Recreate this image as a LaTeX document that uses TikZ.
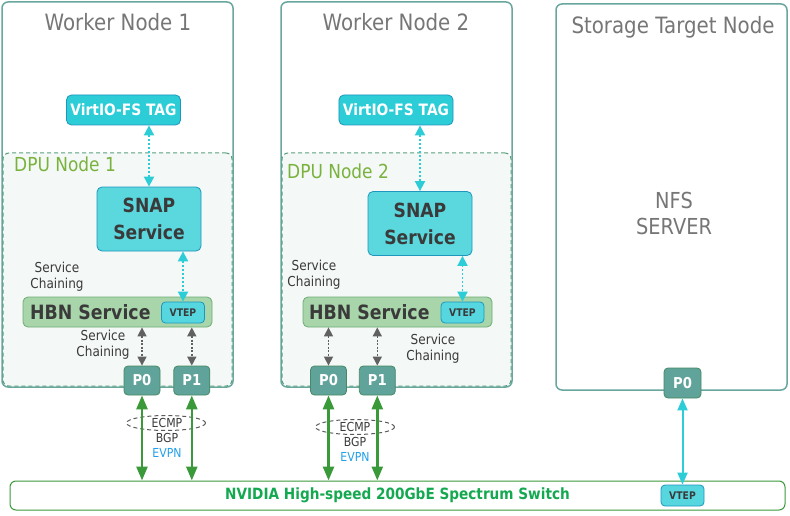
\documentclass[tikz,border=0pt]{standalone}
\usepackage{fontspec}
\setmainfont{DejaVu Sans}[FakeStretch=0.88]
\usepackage{tikz}
\usetikzlibrary{shapes.geometric, arrows.meta, positioning}
\definecolor{boxteal}{RGB}{104,166,158}
\definecolor{titlegray}{RGB}{118,118,118}
\definecolor{tagcyan}{RGB}{44,205,215}
\definecolor{tagedge}{RGB}{30,150,190}
\definecolor{dpufill}{RGB}{244,248,246}
\definecolor{dpuedge}{RGB}{90,160,128}
\definecolor{dpugreen}{RGB}{122,178,62}
\definecolor{snapfill}{RGB}{90,216,222}
\definecolor{hbnfill}{RGB}{168,213,170}
\definecolor{hbnedge}{RGB}{110,172,118}
\definecolor{portfill}{RGB}{95,163,154}
\definecolor{portedge}{RGB}{70,138,100}
\definecolor{darktext}{RGB}{58,58,58}
\definecolor{linkgreen}{RGB}{58,154,58}
\definecolor{switchgreen}{RGB}{20,168,80}
\definecolor{evpnblue}{RGB}{32,160,232}
\tikzstyle{worker} = [rectangle, rounded corners=6pt, draw=boxteal, line width=1.5pt, fill=white, minimum width=231pt, minimum height=385pt, inner sep=0pt]
\tikzstyle{title} = [text=titlegray, font=\fontsize{22.5}{26}\selectfont]
\tikzstyle{tag} = [rectangle, rounded corners=5pt, draw=tagedge, line width=0.8pt, fill=tagcyan, text=white, font=\bfseries\fontsize{15.7}{18}\selectfont, minimum height=30pt, inner sep=4pt]
\tikzstyle{dpu} = [rectangle, rounded corners=6pt, draw=dpuedge, dash pattern=on 4pt off 3pt, line width=1pt, fill=dpufill, minimum width=229pt, minimum height=233pt, inner sep=0pt]
\tikzstyle{dpulabel} = [text=dpugreen, font=\fontsize{19.3}{22}\selectfont, anchor=west, inner sep=0pt]
\tikzstyle{snap} = [rectangle, rounded corners=5pt, draw=tagedge, line width=0.8pt, fill=snapfill, text=darktext, font=\bfseries\fontsize{19.5}{27}\selectfont, align=center, minimum width=104pt, minimum height=64pt]
\tikzstyle{hbn} = [rectangle, rounded corners=5pt, draw=hbnedge, line width=0.8pt, fill=hbnfill, minimum width=189pt, minimum height=30pt, inner sep=0pt]
\tikzstyle{hbnlabel} = [text=darktext, font=\bfseries\fontsize{19.7}{22}\selectfont, anchor=west, inner sep=0pt]
\tikzstyle{vtep} = [rectangle, rounded corners=4pt, draw=tagedge, line width=0.8pt, fill=tagcyan!80!white, text=darktext, font=\bfseries\fontsize{10.5}{12}\selectfont, minimum width=43pt, minimum height=21pt, inner sep=0pt]
\tikzstyle{port} = [rectangle, rounded corners=4pt, draw=portedge, line width=0.8pt, fill=portfill, text=white, font=\bfseries\fontsize{15}{18}\selectfont, minimum width=36pt, minimum height=29pt, inner sep=0pt]
\tikzstyle{note} = [text=darktext, font=\fontsize{13.7}{16}\selectfont, align=center, inner sep=0pt]
\tikzstyle{proto} = [text=darktext, font=\fontsize{12.4}{15}\selectfont, align=center, inner sep=0pt]
\tikzstyle{ring} = [ellipse, draw=black!65, dash pattern=on 4pt off 3pt, line width=1pt, minimum width=79pt, minimum height=15pt, inner sep=0pt]
\tikzstyle{nfs} = [text=titlegray, font=\fontsize{22}{26}\selectfont, align=center]
\tikzstyle{fabric} = [rectangle, rounded corners=6pt, draw=linkgreen, line width=1pt, fill=white, minimum width=775pt, minimum height=29pt, inner sep=0pt, text=switchgreen, font=\bfseries\fontsize{15.5}{18}\selectfont]
\tikzstyle{cyanlink} = [tagcyan, line width=1.8pt, dash pattern=on 2pt off 2pt, {Triangle[length=10pt,width=10pt]}-{Triangle[length=10pt,width=10pt]}]
\tikzstyle{graylink} = [black!62, line width=1.5pt, dash pattern=on 2pt off 1.5pt, {Triangle[length=9pt,width=9pt]}-{Triangle[length=9pt,width=9pt]}]
\tikzstyle{greenlink} = [linkgreen, line width=2.6pt, {Triangle[length=14pt,width=11pt]}-{Triangle[length=14pt,width=11pt]}]
\tikzstyle{nfslink} = [tagcyan, line width=2pt, {Triangle[length=12pt,width=10pt]}-{Triangle[length=12pt,width=10pt]}]
\begin{document}
\begin{tikzpicture}[x=1pt, y=-1pt]
\useasboundingbox (0,0) rectangle (790,516);

\node (wn1) [worker] at (117.5,194.5) {};
\node (wn1title) [title] at (118,22) {Worker Node 1};
\node (dpu1) [dpu] at (117.5,269.5) {};
\node (dpu1label) [dpulabel] at (14,164) {DPU Node 1};
\node (vfs1) [tag] at (123.5,110) {VirtIO-FS TAG};
\node (snap1) [snap] at (149,219) {SNAP\\Service};
\node (hbn1) [hbn] at (117.5,312) {};
\node (hbn1label) [hbnlabel] at (30,312) {HBN Service};
\node (vtep1) [vtep] at (183,312.5) {VTEP};
\node (p0a) [port] at (142,380.5) {P0};
\node (p1a) [port, right=13pt of p0a] {P1};
\node (chain1a) [note] at (57,277) {Service\\Chaining};
\node (chain1b) [note] at (103,345) {Service\\Chaining};

\node (wn2) [worker] at (396.5,194.5) {};
\node (wn2title) [title] at (396,22) {Worker Node 2};
\node (dpu2) [dpu] at (396.5,269.5) {};
\node (dpu2label) [dpulabel] at (287,171) {DPU Node 2};
\node (vfs2) [tag] at (396,110) {VirtIO-FS TAG};
\node (snap2) [snap] at (420,223.5) {SNAP\\Service};
\node (hbn2) [hbn] at (397.5,312) {};
\node (hbn2label) [hbnlabel] at (309,312) {HBN Service};
\node (vtep2) [vtep] at (462.5,312.5) {VTEP};
\node (p0b) [port] at (328.5,380.5) {P0};
\node (p1b) [port, right=12pt of p0b] {P1};
\node (chain2a) [note] at (314,275) {Service\\Chaining};
\node (chain2b) [note] at (433,349) {Service\\Chaining};

\node (stn) [worker, minimum height=386pt] at (671.5,197) {};
\node (stntitle) [title] at (673,27) {Storage Target Node};
\node (nfs) [nfs] at (674,213) {NFS\\SERVER};
\node (p0c) [port, minimum width=37pt, minimum height=30pt] at (682.5,383) {P0};

\node (sw) [fabric] at (397.5,495.5) {NVIDIA High-speed 200GbE Spectrum Switch};
\node (vtep3) [vtep] at (682.5,495.5) {VTEP};

\node (ring1) [ring] at (166,423) {};
\node (ring2) [ring] at (355,427) {};
\node (proto1) [proto] at (167,438) {ECMP\\BGP\\\textcolor{evpnblue}{EVPN}};
\node (proto2) [proto] at (355,442) {ECMP\\BGP\\\textcolor{evpnblue}{EVPN}};

\draw [cyanlink] (vfs1.south -| snap1.north) -- (snap1.north);
\draw [cyanlink] (snap1.south -| vtep1.north) -- (vtep1.north);
\draw [cyanlink] (vfs2.south -| snap2.north) -- (snap2.north);
\draw [cyanlink] (snap2.south -| vtep2.north) -- (vtep2.north);
\draw [graylink] (hbn1.south -| p0a.north) -- (p0a.north);
\draw [graylink] (hbn1.south -| p1a.north) -- (p1a.north);
\draw [graylink] (hbn2.south -| p0b.north) -- (p0b.north);
\draw [graylink] (hbn2.south -| p1b.north) -- (p1b.north);
\draw [greenlink] (p0a.south) -- (p0a.south |- sw.north);
\draw [greenlink] (p1a.south) -- (p1a.south |- sw.north);
\draw [greenlink] (p0b.south) -- (p0b.south |- sw.north);
\draw [greenlink] (p1b.south) -- (p1b.south |- sw.north);
\draw [nfslink] (p0c.south) -- (vtep3.north);
\end{tikzpicture}
\end{document}
